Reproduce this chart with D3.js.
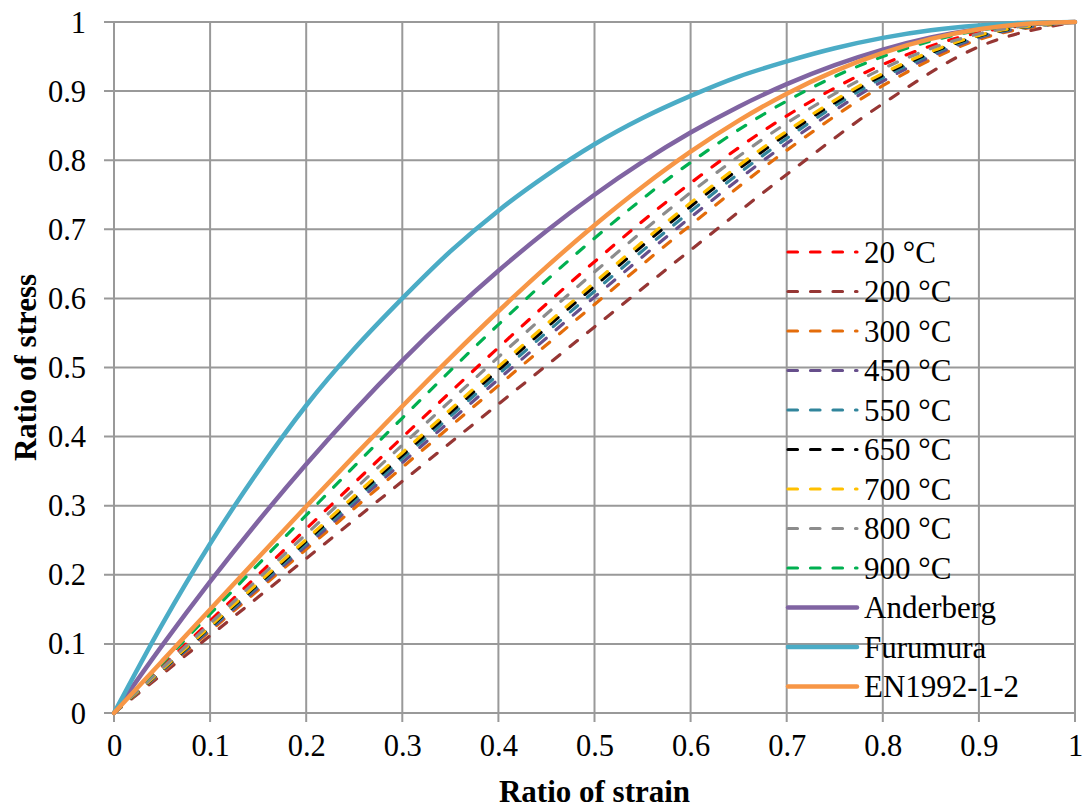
<!DOCTYPE html>
<html>
<head>
<meta charset="utf-8">
<script src="https://cdn.jsdelivr.net/npm/d3@7"></script>
<style>
  html, body { margin: 0; padding: 0; background: #fff; }
  svg { display: block; }
</style>
</head>
<body>
<svg id="chart" width="1086" height="811"></svg>
<script>
// ---------- data ----------
const strainFine = [0, 0.05, 0.1, 0.15, 0.2, 0.25, 0.3, 0.35, 0.4, 0.45, 0.5, 0.55, 0.6, 0.65, 0.7, 0.75, 0.8, 0.85, 0.9, 0.95, 1];
const strainCoarse = [0, 0.1, 0.2, 0.3, 0.4, 0.5, 0.6, 0.7, 0.8, 0.9, 1];

const t20  = [0, 0.1333, 0.2665, 0.3989, 0.5288, 0.6531, 0.7669, 0.8642, 0.9385, 0.9847, 1];
const t200 = [0, 0.1118, 0.2235, 0.3353, 0.4470, 0.5587, 0.6700, 0.7793, 0.8817, 0.9642, 1];
const t300 = [0, 0.1185, 0.2370, 0.3555, 0.4738, 0.5913, 0.7061, 0.8142, 0.9078, 0.9747, 1];
const t450 = [0, 0.1208, 0.2417, 0.3624, 0.4828, 0.6019, 0.7173, 0.8242, 0.9144, 0.9770, 1];
const t550 = [0, 0.1227, 0.2454, 0.3681, 0.4901, 0.6103, 0.7259, 0.8316, 0.9192, 0.9786, 1];
const t650 = [0, 0.1244, 0.2488, 0.3730, 0.4964, 0.6176, 0.7331, 0.8376, 0.9230, 0.9799, 1];
const t700 = [0, 0.1256, 0.2513, 0.3767, 0.5011, 0.6229, 0.7383, 0.8419, 0.9256, 0.9807, 1];
const t800 = [0, 0.1294, 0.2588, 0.3877, 0.5150, 0.6382, 0.7531, 0.8536, 0.9325, 0.9829, 1];
const t900 = [0, 0.1434, 0.2863, 0.4269, 0.5620, 0.6871, 0.7967, 0.8857, 0.9501, 0.9879, 1];

const anderberg = [0, 0.0975, 0.19, 0.2775, 0.36, 0.4375, 0.51, 0.5775, 0.64, 0.6975, 0.75, 0.7975, 0.84, 0.8775, 0.91, 0.9375, 0.96, 0.9775, 0.99, 0.9975, 1];
const furumura  = [0, 0.128, 0.245, 0.35, 0.445, 0.527, 0.600, 0.668, 0.727, 0.778, 0.823, 0.861, 0.893, 0.921, 0.943, 0.962, 0.977, 0.988, 0.995, 0.999, 1];
const en1992    = [0, 0.075, 0.1499, 0.2246, 0.2988, 0.3721, 0.4440, 0.5140, 0.5814, 0.6456, 0.7059, 0.7616, 0.8123, 0.8573, 0.8963, 0.9290, 0.9554, 0.9755, 0.9894, 0.9974, 1];

const seriesNames = ["20 °C", "200 °C", "300 °C", "450 °C", "550 °C", "650 °C", "700 °C", "800 °C", "900 °C", "Anderberg", "Furumura", "EN1992-1-2"];
const seriesColors = ["#FF0000", "#963634", "#E46C0A", "#674F8C", "#31859C", "#000000", "#FFC000", "#8C8C8C", "#00B050", "#8064A2", "#4BACC6", "#F79646"];

const xTicks = [0, 0.1, 0.2, 0.3, 0.4, 0.5, 0.6, 0.7, 0.8, 0.9, 1];
const yTicks = [0, 0.1, 0.2, 0.3, 0.4, 0.5, 0.6, 0.7, 0.8, 0.9, 1];
const xTickLabels = ["0", "0.1", "0.2", "0.3", "0.4", "0.5", "0.6", "0.7", "0.8", "0.9", "1"];
const yTickLabels = ["0", "0.1", "0.2", "0.3", "0.4", "0.5", "0.6", "0.7", "0.8", "0.9", "1"];
const xTitle = "Ratio of strain";
const yTitle = "Ratio of stress";

// ---------- build series ----------
const dashedValues = [t20, t200, t300, t450, t550, t650, t700, t800, t900];
const solidValues = [anderberg, furumura, en1992];
const series = [];
dashedValues.forEach((vals, i) => series.push({
  name: seriesNames[i], color: seriesColors[i], dashed: true,
  points: strainCoarse.map((xv, j) => [xv, vals[j]])
}));
solidValues.forEach((vals, i) => series.push({
  name: seriesNames[9 + i], color: seriesColors[9 + i], dashed: false,
  points: strainFine.map((xv, j) => [xv, vals[j]])
}));

// ---------- layout ----------
const svg = d3.select("#chart");
const pLeft = 114, pRight = 1075, pTop = 22, pBottom = 713;
const xS = d3.scaleLinear().domain([0, 1]).range([pLeft, pRight]);
const yS = d3.scaleLinear().domain([0, 1]).range([pBottom, pTop]);
const font = "'Liberation Serif', 'Times New Roman', serif";
const gridColor = "#999999";

// grid
const grid = svg.append("g");
grid.selectAll("line.vx").data(xTicks).join("line")
  .attr("class", "vx")
  .attr("x1", d => xS(d)).attr("x2", d => xS(d))
  .attr("y1", pTop).attr("y2", pBottom + 9)
  .attr("stroke", gridColor).attr("stroke-width", 2);
grid.selectAll("line.hy").data(yTicks).join("line")
  .attr("class", "hy")
  .attr("x1", pLeft - 10).attr("x2", pRight)
  .attr("y1", d => yS(d)).attr("y2", d => yS(d))
  .attr("stroke", gridColor).attr("stroke-width", 2);

// axes via d3 axis (labels)
const xAxis = d3.axisBottom(xS).tickValues(xTicks).tickFormat((d, i) => xTickLabels[i]).tickSize(0).tickPadding(21);
const yAxis = d3.axisLeft(yS).tickValues(yTicks).tickFormat((d, i) => yTickLabels[i]).tickSize(0).tickPadding(28);
const gx = svg.append("g").attr("transform", `translate(0,${pBottom})`).call(xAxis);
const gy = svg.append("g").attr("transform", `translate(${pLeft},0)`).call(yAxis);
[gx, gy].forEach(g => {
  g.attr("font-family", font);
  g.select(".domain").remove();
  g.selectAll("text").attr("font-family", font).attr("font-size", 30.5).attr("fill", "#000");
});
gy.selectAll("text").attr("dy", "0.33em");
gx.selectAll("text").attr("dy", "0.71em");

// lines
const line = d3.line().x(d => xS(d[0])).y(d => yS(d[1])).curve(d3.curveMonotoneX);
const lines = svg.append("g");
series.forEach(s => {
  lines.append("path")
    .attr("d", line(s.points))
    .attr("fill", "none")
    .attr("stroke", s.color)
    .attr("stroke-width", s.dashed ? 3.2 : 4.5)
    .attr("stroke-linecap", "round")
    .attr("stroke-linejoin", "round")
    .attr("stroke-dasharray", s.dashed ? "9.5,13" : null);
});

// legend
const legend = svg.append("g");
const legY0 = 252, legStep = 39.5, legX1 = 788, legX2 = 857, legTextX = 864;
series.forEach((s, i) => {
  const yy = legY0 + i * legStep;
  legend.append("line")
    .attr("x1", legX1).attr("x2", legX2).attr("y1", yy).attr("y2", yy)
    .attr("stroke", s.color)
    .attr("stroke-width", s.dashed ? 3.2 : 4.5)
    .attr("stroke-linecap", "round")
    .attr("stroke-dasharray", s.dashed ? "9.5,13" : null);
  legend.append("text")
    .attr("x", legTextX).attr("y", yy).attr("dy", "0.35em")
    .attr("font-family", font).attr("font-size", 31).attr("fill", "#000")
    .text(s.name);
});

// titles
svg.append("text")
  .attr("x", (pLeft + pRight) / 2).attr("y", 802)
  .attr("text-anchor", "middle")
  .attr("font-family", font).attr("font-size", 31).attr("font-weight", "bold")
  .text(xTitle);
svg.append("text")
  .attr("transform", `translate(36,${(pTop + pBottom) / 2}) rotate(-90)`)
  .attr("text-anchor", "middle")
  .attr("font-family", font).attr("font-size", 31).attr("font-weight", "bold")
  .text(yTitle);
</script>
</body>
</html>
